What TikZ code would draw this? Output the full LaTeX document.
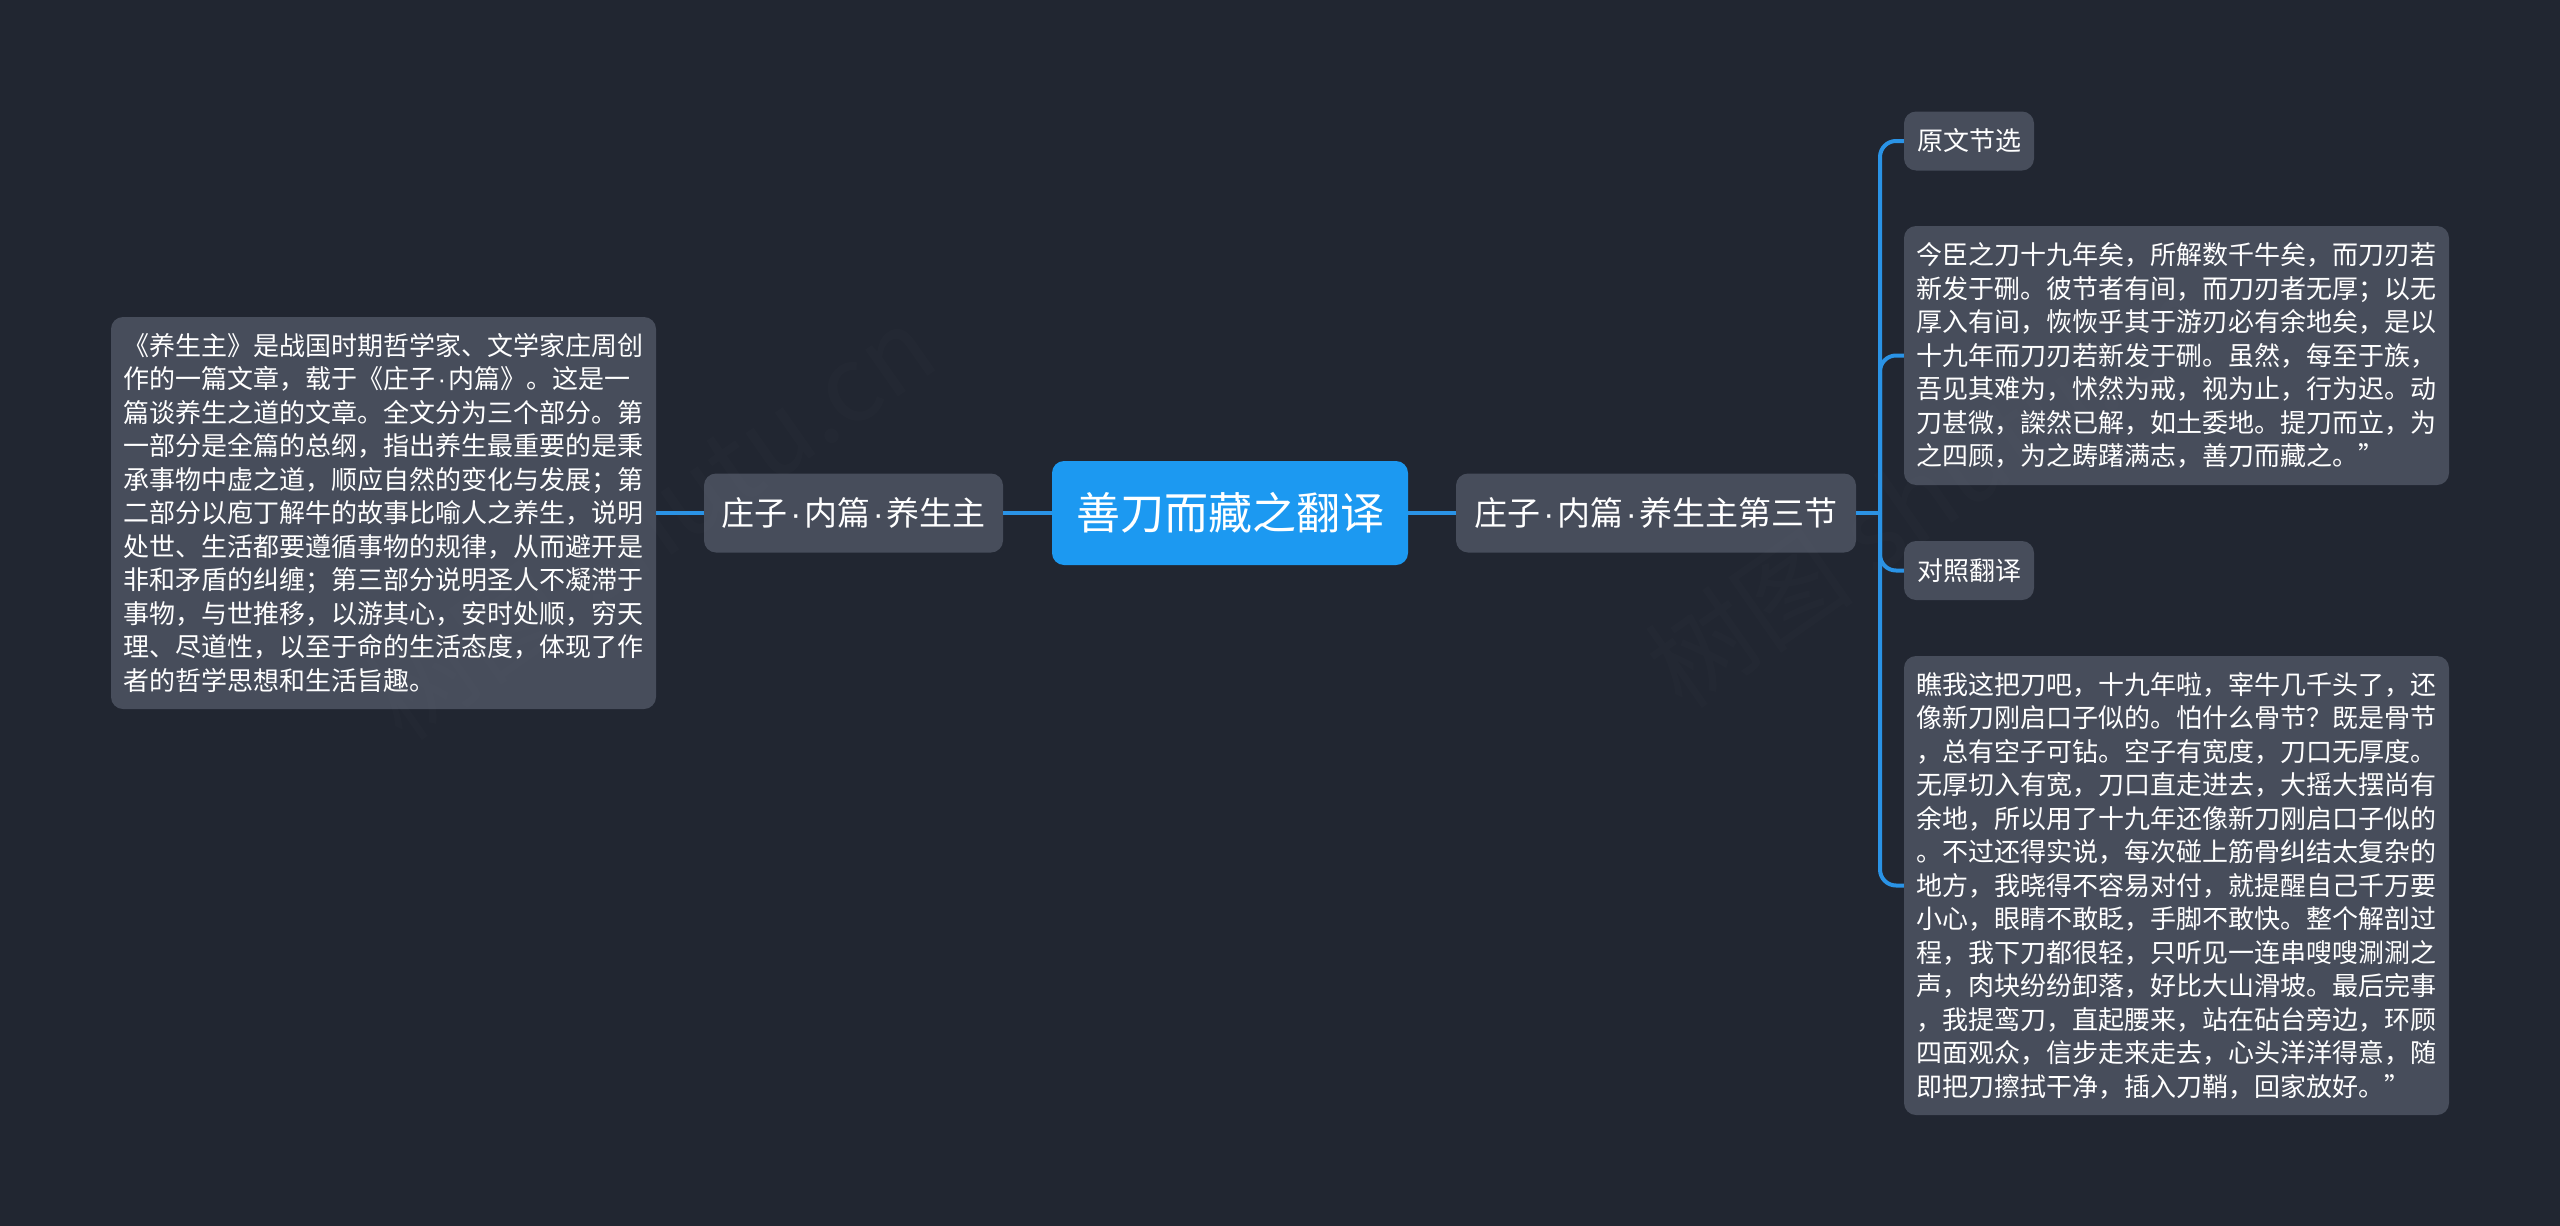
\documentclass[tikz,border=0pt]{standalone}
\usepackage{fontspec}
\setmainfont{Noto Sans CJK SC}
\newfontfamily\dotfont{Liberation Sans}
\definecolor{bgc}{HTML}{212631}
\definecolor{boxc}{HTML}{474D5B}
\definecolor{rootc}{HTML}{1C99F1}
\definecolor{linec}{HTML}{2A93E6}
\newcommand{\mdot}{\makebox[.5em][c]{\dotfont ·}}
\tikzset{
  nodebox/.style={fill=boxc,rounded corners=12pt,inner sep=0pt,text=white,anchor=center},
  rootbox/.style={nodebox,fill=rootc,minimum width=356pt,minimum height=104pt,font=\fontsize{44}{50}\selectfont},
  headbox/.style={nodebox,minimum height=79pt,font=\fontsize{33}{40}\selectfont},
  smallbox/.style={nodebox,minimum width=130pt,minimum height=59pt,font=\fontsize{26}{33}\selectfont},
  textbox/.style={nodebox,minimum width=545pt,text width=520pt,align=left,font=\fontsize{26}{33.5}\selectfont},
  conn/.style={draw=linec,line width=4pt},
  curve/.style={conn,rounded corners=16pt},
  wmark/.style={text=gray,text opacity=.03,rotate=35,inner sep=0pt,font=\fontsize{105}{110}\selectfont}
}
\begin{document}
\begin{tikzpicture}[x=1pt,y=-1pt]
\fill[bgc] (0,0) rectangle (2560,1226);
\useasboundingbox (0,0) rectangle (2560,1226);
\coordinate (hub) at (1880,513);
\node[rootbox] (root) at (1230,513) {善刀而藏之翻译};
\node[headbox,minimum width=299pt] (lhead) at (853.5,513) {庄子\mdot 内篇\mdot 养生主};
\node[headbox,minimum width=400pt] (rhead) at (1656,513) {庄子\mdot 内篇\mdot 养生主第三节};
\node[textbox,minimum height=392pt] (intro) at (383.5,513) {《养生主》是战国时期哲学家、文学家庄周创\\
作的一篇文章，载于《庄子\mdot 内篇》。这是一\\
篇谈养生之道的文章。全文分为三个部分。第\\
一部分是全篇的总纲，指出养生最重要的是秉\\
承事物中虚之道，顺应自然的变化与发展；第\\
二部分以庖丁解牛的故事比喻人之养生，说明\\
处世、生活都要遵循事物的规律，从而避开是\\
非和矛盾的纠缠；第三部分说明圣人不凝滞于\\
事物，与世推移，以游其心，安时处顺，穷天\\
理、尽道性，以至于命的生活态度，体现了作\\
者的哲学思想和生活旨趣。};
\node[smallbox] (yuan) at (1969,141) {原文节选};
\node[textbox,minimum height=259pt] (orig) at (2176.5,355.5) {今臣之刀十九年矣，所解数千牛矣，而刀刃若\\
新发于硎。彼节者有间，而刀刃者无厚；以无\\
厚入有间，恢恢乎其于游刃必有余地矣，是以\\
十九年而刀刃若新发于硎。虽然，每至于族，\\
吾见其难为，怵然为戒，视为止，行为迟。动\\
刀甚微，謋然已解，如土委地。提刀而立，为\\
之四顾，为之踌躇满志，善刀而藏之。”};
\node[smallbox] (dui) at (1969,570.5) {对照翻译};
\node[textbox,minimum height=459pt] (trans) at (2176.5,885.5) {瞧我这把刀吧，十九年啦，宰牛几千头了，还\\
像新刀刚启口子似的。怕什么骨节？既是骨节\\
，总有空子可钻。空子有宽度，刀口无厚度。\\
无厚切入有宽，刀口直走进去，大摇大摆尚有\\
余地，所以用了十九年还像新刀刚启口子似的\\
。不过还得实说，每次碰上筋骨纠结太复杂的\\
地方，我晓得不容易对付，就提醒自己千万要\\
小心，眼睛不敢眨，手脚不敢快。整个解剖过\\
程，我下刀都很轻，只听见一连串嗖嗖涮涮之\\
声，肉块纷纷卸落，好比大山滑坡。最后完事\\
，我提鸾刀，直起腰来，站在砧台旁边，环顾\\
四面观众，信步走来走去，心头洋洋得意，随\\
即把刀擦拭干净，插入刀鞘，回家放好。”};
\draw[conn] (root) -- (lhead);
\draw[conn] (lhead) -- (intro);
\draw[conn] (root) -- (rhead);
\draw[conn] (rhead) -- (hub);
\draw[curve] (hub) |- (yuan.west);
\draw[curve] (hub) |- (orig.west);
\draw[curve] (hub) |- (dui.west);
\draw[curve] (hub) |- (trans.west);
\node[wmark] (wm1) at (650,522) {树图 shutu.cn};
\node[wmark] (wm2) at (1930,490) {树图 shutu.cn};
\end{tikzpicture}
\end{document}
